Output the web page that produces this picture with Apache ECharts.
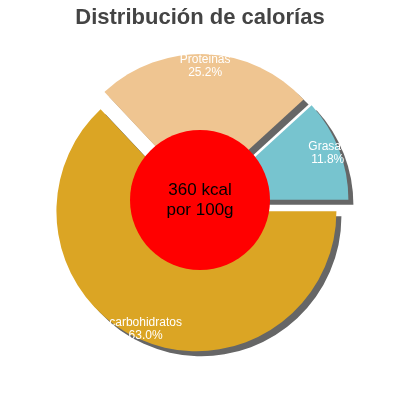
<!DOCTYPE html>
<html><head><meta charset="utf-8">
<script src="https://cdn.jsdelivr.net/npm/echarts@6/dist/echarts.min.js"></script>
<style>html,body{margin:0;padding:0}#c{width:400px;height:400px}</style>
</head><body><div id="c"></div>
<script>
const categories = ['Grasas', 'Proteinas', 'carbohidratos'];
const values = [11.8, 25.2, 63.0];
const colors = ['#77c4cf', '#efc591', '#dba524'];
const centerText = '360 kcal\npor 100g';
const chart = echarts.init(document.getElementById('c'));
const base = { type: 'pie', center: [200, 203], startAngle: 0, clockwise: false,
  selectedMode: 'multiple', selectedOffset: 9, silent: true };
chart.setOption({
  animation: false,
  title: { text: 'Distribución de calorías', left: 'center', top: 2,
    textStyle: { fontFamily: 'Liberation Sans', fontSize: 22, fontWeight: 'bold', color: '#444' } },
  series: [Object.assign({}, base, {
    radius: [0, 140], z: 1,
    itemStyle: { shadowColor: '#666', shadowOffsetX: 5, shadowOffsetY: 5, shadowBlur: 0 },
    label: { show: false },
    data: categories.map((n, i) => ({ name: n, value: values[i], selected: true, itemStyle: { color: colors[i] } }))
  }), Object.assign({}, base, {
    radius: [90, 160], z: 3,
    itemStyle: { color: 'transparent' },
    label: { position: 'inside', color: '#fff', fontFamily: 'Liberation Sans', fontSize: 12,
      lineHeight: 13, formatter: p => p.name + '\n' + p.value.toFixed(1) + '%' },
    data: categories.map((n, i) => ({ name: n, value: values[i], selected: true }))
  }), {
    type: 'pie', center: [200, 200], radius: [0, 70], silent: true, z: 5,
    label: { position: 'center', color: '#000', fontFamily: 'Liberation Sans', fontSize: 17, lineHeight: 20, formatter: centerText },
    data: [{ value: 1, itemStyle: { color: '#ff0000' } }]
  }]
});
</script></body></html>
